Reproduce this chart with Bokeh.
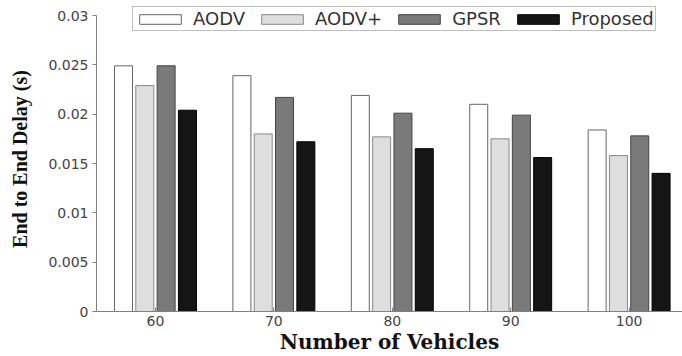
from bokeh.plotting import figure
from bokeh.models import Range1d, FixedTicker, Legend, LegendItem, ColumnDataSource
from bokeh.embed import file_html
from bokeh.resources import INLINE
import numpy as np

vehicles = ["60", "70", "80", "90", "100"]
series = ["AODV", "AODV+", "GPSR", "Proposed"]
aodv = [0.0249, 0.0239, 0.0219, 0.0210, 0.0184]
aodv_plus = [0.0229, 0.0180, 0.0177, 0.0175, 0.0158]
gpsr = [0.0249, 0.0217, 0.0201, 0.0199, 0.0178]
proposed = [0.0204, 0.0172, 0.0165, 0.0156, 0.0140]
y_ticks = [0, 0.005, 0.01, 0.015, 0.02, 0.025, 0.03]
y_tick_labels = ["0", "0.005", "0.01", "0.015", "0.02", "0.025", "0.03"]
x_title = "Number of Vehicles"
y_title = "End to End Delay (s)"

values = [aodv, aodv_plus, gpsr, proposed]
fills = ["#ffffff", "#dedede", "#7a7a7a", "#151515"]
lines = ["#666666", "#888888", "#444444", "#000000"]
offsets = [-0.27, -0.09, 0.09, 0.27]
bar_w = 0.152

y_max = y_ticks[-1]
p = figure(width=682, height=356, output_backend="svg", toolbar_location=None,
           x_range=Range1d(0.502, 5.451), y_range=Range1d(0, y_max * 305 / 296),
           min_border_left=96, min_border_right=0, min_border_top=6, min_border_bottom=45)
p.outline_line_color = None
p.xgrid.grid_line_color = None
p.ygrid.grid_line_color = None

base = np.arange(1, len(vehicles) + 1)
renderers = []
for vals, fc, lc, off in zip(values, fills, lines, offsets):
    src = ColumnDataSource(dict(x=base + off, top=vals))
    r = p.vbar(x="x", top="top", width=bar_w, bottom=0, source=src,
               fill_color=fc, line_color=lc, line_width=1)
    renderers.append(r)

p.xaxis.ticker = FixedTicker(ticks=list(base))
p.xaxis.major_label_overrides = {int(b): v for b, v in zip(base, vehicles)}
p.yaxis.ticker = FixedTicker(ticks=y_ticks)
p.yaxis.major_label_overrides = {t: l for t, l in zip(y_ticks, y_tick_labels)}
p.yaxis.bounds = (0, y_max)

for ax in (p.xaxis, p.yaxis):
    ax.axis_line_color = "#808080"
    ax.major_tick_line_color = "#808080"
    ax.minor_tick_line_color = None
    ax.major_label_text_font = "DejaVu Sans"
    ax.major_label_text_font_size = "14px"
    ax.major_label_text_color = "#444444"

p.xaxis.major_tick_in = 4
p.xaxis.major_tick_out = 0
p.yaxis.major_tick_in = 0
p.yaxis.major_tick_out = 4
p.xaxis.major_label_standoff = 4
p.yaxis.major_label_standoff = 4

p.xaxis.axis_label = x_title
p.xaxis.axis_label_text_font = "DejaVu Serif"
p.xaxis.axis_label_text_font_style = "bold"
p.xaxis.axis_label_text_font_size = "20px"
p.xaxis.axis_label_text_color = "#111111"
p.xaxis.axis_label_standoff = 1

p.yaxis.axis_label = y_title
p.yaxis.axis_label_text_font = "Liberation Serif"
p.yaxis.axis_label_text_font_style = "bold"
p.yaxis.axis_label_text_font_size = "20px"
p.yaxis.axis_label_text_color = "#111111"
p.yaxis.axis_label_standoff = 14

legend = Legend(items=[LegendItem(label=s, renderers=[r]) for s, r in zip(series, renderers)],
                orientation="horizontal", location=(36, 280),
                glyph_width=52, glyph_height=12, label_standoff=7, spacing=11,
                padding=1, margin=0, label_height=14,
                label_text_font="DejaVu Sans", label_text_font_size="18px",
                label_text_color="#333333",
                border_line_color="#808080", border_line_width=1,
                background_fill_alpha=1.0)
p.add_layout(legend, "center")

open("out.html", "w").write(file_html(p, INLINE))
